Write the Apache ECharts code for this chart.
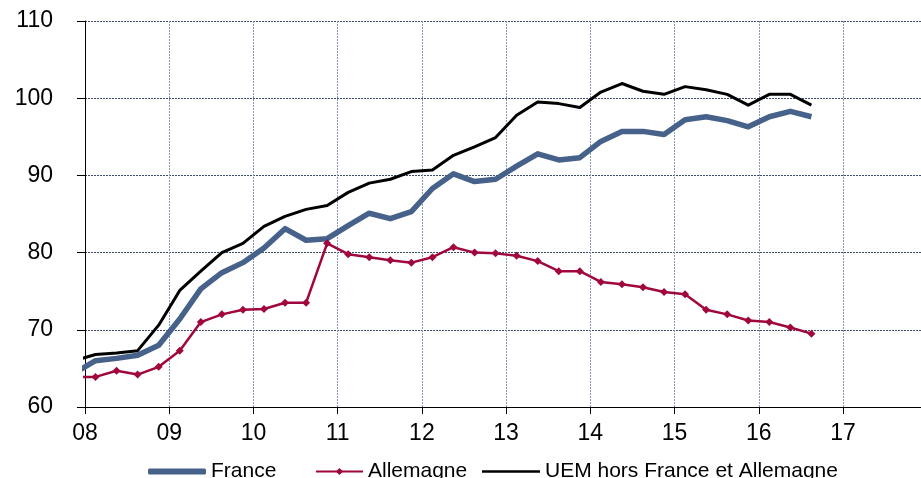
<!DOCTYPE html>
<html>
<head>
<meta charset="utf-8">
<script src="https://cdn.jsdelivr.net/npm/echarts@6/dist/echarts.min.js"></script>
<style>
  html, body { margin: 0; padding: 0; background: #fff; }
  #chart { width: 921px; height: 478px; }
</style>
</head>
<body>
<div id="chart"></div>
<script>
// Quarterly index series (quarters written as YYYYTq)
const quarters = [
  '2007T4',
  '2008T1','2008T2','2008T3','2008T4',
  '2009T1','2009T2','2009T3','2009T4',
  '2010T1','2010T2','2010T3','2010T4',
  '2011T1','2011T2','2011T3','2011T4',
  '2012T1','2012T2','2012T3','2012T4',
  '2013T1','2013T2','2013T3','2013T4',
  '2014T1','2014T2','2014T3','2014T4',
  '2015T1','2015T2','2015T3','2015T4',
  '2016T1','2016T2','2016T3'
];

const france = [
  64.4,
  66.0, 66.3, 66.7, 68.0,
  71.4, 75.3, 77.4, 78.7,
  80.6, 83.1, 81.6, 81.8,
  83.5, 85.1, 84.4, 85.3,
  88.3, 90.2, 89.2, 89.5,
  91.2, 92.8, 92.0, 92.3,
  94.4, 95.7, 95.7, 95.3,
  97.2, 97.6, 97.1, 96.3,
  97.6, 98.3, 97.6
];

const allemagne = [
  63.9,
  63.9, 64.7, 64.2, 65.2,
  67.3, 71.0, 72.0, 72.6,
  72.7, 73.5, 73.5, 81.2,
  79.8, 79.4, 79.0, 78.7,
  79.4, 80.7, 80.0, 79.9,
  79.6, 78.9, 77.6, 77.6,
  76.2, 75.9, 75.5, 74.9,
  74.6, 72.6, 72.0, 71.2,
  71.0, 70.3, 69.5
];

const uem = [
  66.0,
  66.8, 67.0, 67.3, 70.6,
  75.1, 77.6, 80.0, 81.2,
  83.4, 84.7, 85.6, 86.1,
  87.8, 89.0, 89.5, 90.5,
  90.7, 92.6, 93.7, 94.9,
  97.8, 99.5, 99.3, 98.8,
  100.8, 101.9, 100.9, 100.5,
  101.5, 101.1, 100.5, 99.1,
  100.5, 100.5, 99.1
];

const seriesNames = ['France', 'Allemagne', 'UEM hors France et Allemagne'];
const yTicks = [60, 70, 80, 90, 100, 110];
const xTicks = ['08','09','10','11','12','13','14','15','16','17'];

// each quarter sits at the middle of its three months on a yearly axis
function quarterPos(q) {
  const y = parseInt(q.slice(0, 4), 10);
  const n = parseInt(q.slice(5), 10);
  return y + (n - 0.5) / 4;
}
function pairs(values) {
  return values.map((v, i) => [quarterPos(quarters[i]), v]);
}

const FONT = '"Liberation Sans", Arial, sans-serif';
const BLUE = '#46628a';
const RED = '#a0073e';

const chart = echarts.init(document.getElementById('chart'), null, { renderer: 'canvas' });

const legendText = { fontFamily: FONT, fontSize: 21, color: '#000' };

chart.setOption({
  animation: false,
  backgroundColor: '#fff',
  grid: { left: 85, right: 0, top: 21, bottom: 71, containLabel: false },
  legend: [
    {
      left: 143, top: 456, itemWidth: 58, itemHeight: 6,
      textStyle: legendText,
      data: [{ name: seriesNames[0], icon: 'roundRect', itemStyle: { color: BLUE } }]
    },
    {
      left: 310, top: 456, itemWidth: 47, itemHeight: 9,
      textStyle: legendText,
      data: [{ name: seriesNames[1], lineStyle: { width: 2, color: RED } }]
    },
    {
      left: 477, top: 456, itemWidth: 58, itemHeight: 2.5,
      textStyle: legendText,
      data: [{ name: seriesNames[2], icon: 'rect', itemStyle: { color: '#000' } }]
    }
  ],
  xAxis: {
    type: 'value',
    min: 2008,
    max: 2017.926,
    interval: 1,
    axisLine: { show: true, onZero: false, lineStyle: { color: '#000', width: 1 } },
    axisTick: { show: true, length: 7, lineStyle: { color: '#000' } },
    axisLabel: {
      margin: 15,
      fontFamily: FONT, fontSize: 23, color: '#000',
      showMaxLabel: false,
      formatter: v => {
        const i = Math.round(v) - 2008;
        return Math.abs(v - Math.round(v)) < 1e-6 && xTicks[i] !== undefined ? xTicks[i] : '';
      }
    },
    splitLine: { show: true, lineStyle: { color: '#8a98b4', width: 1, type: [2, 1] } }
  },
  yAxis: {
    type: 'value',
    min: yTicks[0],
    max: yTicks[yTicks.length - 1],
    interval: 10,
    axisLine: { show: true, lineStyle: { color: '#000', width: 1 } },
    axisTick: { show: true, length: 8, lineStyle: { color: '#000' } },
    axisLabel: { margin: 32, fontFamily: FONT, fontSize: 23, color: '#000' },
    splitLine: { show: true, lineStyle: { color: '#3c4c6c', width: 1, type: [2, 1] } }
  },
  series: [
    {
      name: seriesNames[0], type: 'line', data: pairs(france),
      clip: true, symbol: 'none', smooth: false,
      lineStyle: { color: BLUE, width: 5.5, join: 'round' },
      itemStyle: { color: BLUE }, z: 2
    },
    {
      name: seriesNames[1], type: 'line', data: pairs(allemagne),
      clip: true, symbol: 'diamond', symbolSize: 8, showSymbol: true,
      lineStyle: { color: RED, width: 2.5 },
      itemStyle: { color: RED }, z: 3
    },
    {
      name: seriesNames[2], type: 'line', data: pairs(uem),
      clip: true, symbol: 'none',
      lineStyle: { color: '#000', width: 3, join: 'round' },
      itemStyle: { color: '#000' }, z: 4
    }
  ]
});
</script>
</body>
</html>
